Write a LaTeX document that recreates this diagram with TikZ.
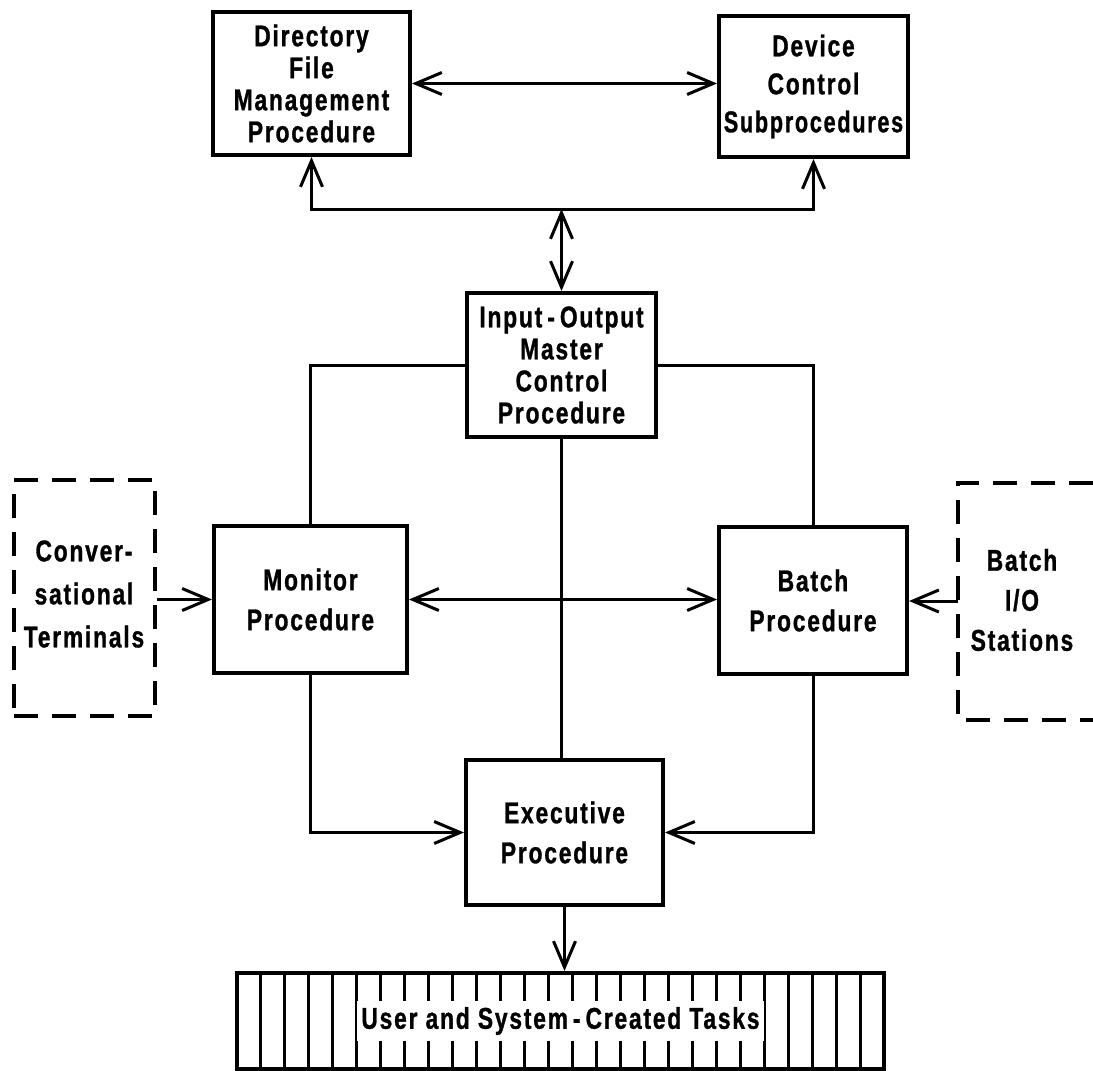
\documentclass[tikz,border=0pt]{standalone}
\usepackage{graphicx}
\usepackage{fontspec}
\setmainfont{Liberation Sans}
\newfontfamily\lab[FakeStretch=0.76,LetterSpace=6,FakeBold=1]{Liberation Sans}
\usetikzlibrary{arrows.meta}
\begin{document}
\begin{tikzpicture}[x=1pt,y=-1pt,
  >={Straight Barb[length=26pt,width=22pt]},
  lbl/.style={font=\lab\bfseries\fontsize{30}{40}\selectfont, align=center, inner sep=0pt},
  lbltight/.style={font=\lab\bfseries\fontsize{30}{32}\selectfont, align=center, inner sep=0pt},
  box/.style={draw, line width=4pt, rectangle, inner sep=0pt},
  dbox/.style={draw, line width=3.5pt, dash pattern=on 24pt off 14pt},
  ln/.style={line width=3pt},
  arr/.style={line width=3pt, ->},
  dbl/.style={line width=3pt, <->}]
\fill[white] (0,0) rectangle (1093,1071);
\useasboundingbox (0,0) rectangle (1093,1071);

% boxes
\node[box, lbltight, minimum width=197pt, minimum height=143pt] (dir) at (311.5,83.5)
  {Directory\\File\\Management\\Procedure};
\node[box, lbl, font=\lab\bfseries\fontsize{30}{38}\selectfont, minimum width=189pt, minimum height=141pt] (dev) at (813.5,86.5)
  {Device\\Control\\\scalebox{0.95}[1]{Subprocedures}};
\node[box, lbltight, minimum width=189pt, minimum height=144pt] (io) at (561.5,365)
  {Input\,-\,Output\\Master\\Control\\Procedure};
\node[box, lbl, minimum width=193pt, minimum height=147pt] (mon) at (310.5,599.5)
  {Monitor\\Procedure};
\node[box, lbl, minimum width=188pt, minimum height=147pt] (bat) at (813,600.5)
  {Batch\\Procedure};
\node[box, lbl, minimum width=197pt, minimum height=145pt] (ex) at (564.5,832.5)
  {Executive\\Procedure};

% dashed external boxes
\node[dbox, minimum width=141pt, minimum height=236pt] (conv) at (84.5,598) {};
\node[lbl, font=\lab\bfseries\fontsize{30}{43}\selectfont] (convt) at (84,594)
  {Conver-\\sational\\Terminals};
\draw[dbox] (1093,483) -- (958,483) -- (958,720) -- (1093,720);
\node[lbl] (bion) at (1022,600) {Batch\\I/O\\Stations};
\coordinate (bio) at (958,601);

% tasks
\node[box, minimum width=647pt, minimum height=96pt] (tasks) at (560.5,1021) {};
\foreach \k in {1,...,26} \draw[ln] (237+\k*23.963,973) -- (237+\k*23.963,1069);
\node[lbl, fill=white, inner xsep=4pt, inner ysep=6pt] (tasktext) at (tasks.center)
  {User and System\,-\,Created Tasks};

% connectors
\draw[dbl] (dir.east) -- (dir.east -| dev.west);
\coordinate (bus) at (io.north |- 0,209);
\draw[arr] (bus) -| (dir.south);
\draw[arr] (bus) -| (dev.south);
\draw[dbl] (bus) -- (io.north);
\draw[ln] (io.west) -| (mon.north);
\draw[ln] (io.east) -| (bat.north);
\draw[ln] (io.south) -- (io.south |- ex.north);
\draw[dbl] (mon.east) -- (mon.east -| bat.west);
\draw[arr] (conv.east |- mon.east) -- (mon.west);
\draw[arr] (bio) -- (bio -| bat.east);
\draw[arr] (mon.south) |- (ex.west);
\draw[arr] (bat.south) |- (ex.east);
\draw[arr] (ex.south) -- (ex.south |- tasks.north);
\end{tikzpicture}
\end{document}
